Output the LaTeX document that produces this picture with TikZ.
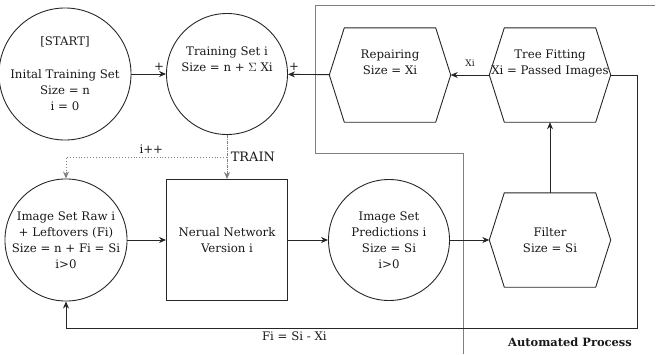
\documentclass[tikz,border=0pt]{standalone}
\usepackage{fontspec}
\setmainfont{DejaVu Serif}
\usetikzlibrary{arrows.meta}

\begin{document}
\begin{tikzpicture}[x=1bp,y=1bp,
    every node/.style={font=\fontsize{11.8}{16}\selectfont, text=black!90},
    flow/.style={draw=black!85, line width=0.9bp, -{Stealth[length=7bp,width=6bp]}},
    setcircle/.style={circle, draw=black!85, line width=0.9bp, minimum size=121bp, inner sep=0pt, align=center},
    netbox/.style={rectangle, draw=black!85, line width=0.9bp, minimum size=121bp, inner sep=0pt, align=center},
    hexbox/.style={rectangle, minimum width=121bp, minimum height=94bp, inner sep=0pt, align=center}]

\useasboundingbox (0,0) rectangle (659,354);

\def\LINECOLOR{black!85}
	% automated process frame
	\draw[gray, line width=0.6bp] (463,0) -- (463,201) -- (315,201) -- (315,349) -- (655,349);
	\node[font=\fontsize{11.5}{12}\selectfont\bfseries] (auto) at (570,12) {Automated Process};

	% sets and the network
	\node[setcircle] (start) at (65,280) {[START]\\[17bp]Inital Training Set\\Size = n\\i = 0};
	\node[setcircle] (train) at (227,280) {Training Set i\\Size = n + $\Sigma$ Xi\\[14bp]};
	\node[setcircle] (raw) at (66,114) {Image Set Raw i\\+ Leftovers (Fi)\\Size = n + Fi = Si\\i>0};
	\node[netbox] (nn) at (227,114) {Nerual Network\\Version i};
	\node[setcircle] (pred) at (389,114) {Image Set\\Predictions i\\Size = Si\\i>0};

	% hexagons
	\node[hexbox] (repair) at (390,279) {Repairing\\Size = Xi\\[10bp]};
	\node[hexbox] (tree) at (550,279) {Tree Fitting\\Xi = Passed Images\\[10bp]};
	\node[hexbox] (filter) at (550,114) {Filter\\Size = Si};
	\foreach \h in {repair,tree,filter}
		\draw[\LINECOLOR, line width=0.9bp] (\h.west) -- ([xshift=15bp]\h.north west) -- ([xshift=-15bp]\h.north east)
			-- (\h.east) -- ([xshift=-15bp]\h.south east) -- ([xshift=15bp]\h.south west) -- cycle;

	% connectors
	\draw[flow] (start) -- node[pos=0.8, above] {+} (train);
	\draw[flow] (repair) -- node[pos=0.85, above] {+} (train);
	\draw[flow] (tree) -- node[above=5bp, font=\fontsize{9}{10}\selectfont] {Xi} (repair);
	\draw[flow] (raw) -- (nn);
	\draw[flow] (nn) -- (pred);
	\draw[flow] (pred) -- (filter);
	\draw[flow] (filter) -- (tree);
	\draw[flow, gray, dash pattern=on 3bp off 1bp on 1bp off 1bp] (train) -- coordinate[pos=0.5] (split) node[pos=0.5, right, font=\fontsize{13}{14}\selectfont] {TRAIN} (nn);
	\draw[flow, dotted, gray] (split) -- node[above, pos=0.47] {i++} (split -| raw) -- (raw);
	\coordinate (corner) at (637,26);
	\draw[flow] (tree.east) -| (corner) -- node[below, pos=0.6] {Fi = Si - Xi} (corner -| raw) -- (raw);

\end{tikzpicture}
\end{document}
